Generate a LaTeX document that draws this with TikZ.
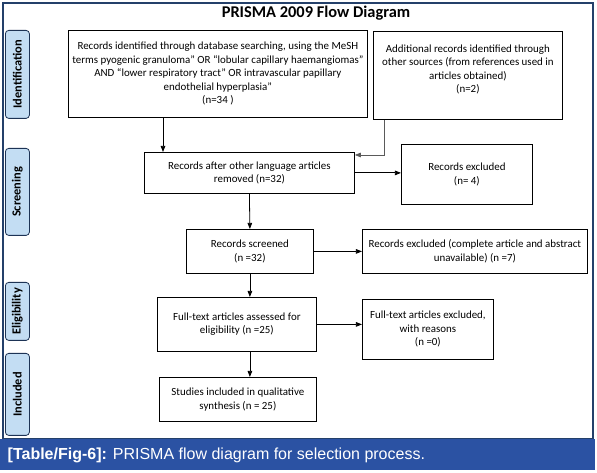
\documentclass[tikz,border=0pt]{standalone}
\usepackage{fontspec}
\setmainfont{Carlito}
\newfontfamily\capfont{Liberation Sans}
\usetikzlibrary{positioning, arrows.meta, calc}
\definecolor{frame}{HTML}{24406A}
\definecolor{phase}{HTML}{C3DDF3}
\definecolor{band}{HTML}{2B52A3}
\definecolor{link}{HTML}{5A5A5A}

\begin{document}
\begin{tikzpicture}[
  x=0.75pt, y=-0.75pt,
  font=\fontsize{8.2pt}{10.1pt}\selectfont,
  every node/.style={align=center},
  box/.style={rectangle, draw=black, line width=0.6pt, fill=white,
              inner sep=0pt, anchor=north west},
  phasebox/.style={rectangle, rounded corners=2.5pt, draw=frame!80!black,
              line width=0.6pt, fill=phase, inner sep=0pt, anchor=north west},
  phaselabel/.style={rotate=90, font=\fontsize{9.3pt}{11pt}\selectfont\bfseries},
  arr/.style={-{Triangle[length=1.6mm, width=1.2mm]}, line width=0.6pt, draw=black},
  arrg/.style={arr, draw=link}
]
  \useasboundingbox (0,0) rectangle (597,473);

  % frame, title and caption band
  \draw[frame, line width=1pt] (3,3) rectangle (593,439);
  \node[font=\fontsize{12.3pt}{14pt}\selectfont\bfseries] (title) at (316,13) {PRISMA 2009 Flow Diagram};
  \fill[band] (0,439) rectangle (595,470);
  \node[anchor=west, text=white, font=\capfont\fontsize{12pt}{14pt}\selectfont] (cap) at (3,455)
    {\textbf{[Table/Fig-6]:} PRISMA flow diagram for selection process.};

  % phase labels
  \node[phasebox, minimum width=24*0.75pt, minimum height=88*0.75pt] (pid) at (5,30) {};
  \node[phaselabel] at (pid.center) {Identification};
  \node[phasebox, minimum width=24*0.75pt, minimum height=87*0.75pt] (psc) at (5,148) {};
  \node[phaselabel] at (psc.center) {Screening};
  \node[phasebox, minimum width=24*0.75pt, minimum height=58*0.75pt] (pel) at (5,282) {};
  \node[phaselabel] at (pel.center) {Eligibility};
  \node[phasebox, minimum width=24*0.75pt, minimum height=82*0.75pt] (pin) at (5,353) {};
  \node[phaselabel] at (pin.center) {Included};

  % flow boxes
  \node[box, minimum width=299*0.75pt, minimum height=87*0.75pt] (ident) at (68,30)
    {Records identified through database searching, using the MeSH\\
     terms pyogenic granuloma” OR “lobular capillary haemangiomas”\\
     AND “lower respiratory tract” OR intravascular papillary\\
     endothelial hyperplasia”\\
     (n=34 )};
  \node[box, minimum width=189*0.75pt, minimum height=88*0.75pt] (other) at (373,31)
    {Additional records identified through\\
     other sources (from references used in\\
     articles obtained)\\
     (n=2)\\ \mbox{}};
  \node[box, minimum width=210*0.75pt, minimum height=41*0.75pt] (lang) at (144,152)
    {Records after other language articles\\
     removed (n=32)};
  \node[box, minimum width=131*0.75pt, minimum height=60*0.75pt] (excl4) at (401,144)
    {Records excluded\\
     (n= 4)};
  \node[box, minimum width=127*0.75pt, minimum height=44*0.75pt] (screen) at (186,229)
    {Records screened\\
     (n =32)};
  \node[box, minimum width=225*0.75pt, minimum height=44*0.75pt] (excl7) at (362,229)
    {Records excluded (complete article and abstract\\
     unavailable) (n =7)};
  \node[box, minimum width=159*0.75pt, minimum height=54*0.75pt] (full) at (157,297)
    {Full-text articles assessed for\\
     eligibility (n =25)};
  \node[box, minimum width=131*0.75pt, minimum height=60*0.75pt] (fexcl) at (362,299)
    {Full-text articles excluded,\\
     with reasons\\
     (n =0)};
  \node[box, minimum width=157*0.75pt, minimum height=44*0.75pt] (incl) at (159,377)
    {Studies included in qualitative\\
     synthesis (n = 25)};

  \coordinate (c1) at (163,0);
  \coordinate (c2) at (384,155);

  \draw[arr] (ident.south -| c1) -- (lang.north -| c1);
  \draw[arrg] (other.south -| c2) |- (lang.east |- c2);
  \draw[arr] (lang.east) -- (lang.east -| excl4.west);
  \draw[arr] (lang.south) -- (screen.north);
  \draw[arr] (screen.east) -- (screen.east -| excl7.west);
  \draw[arr] (screen.south) -- (screen.south |- full.north);
  \draw[arr] (full.east) -- (full.east -| fexcl.west);
  \draw[arr] (screen.south |- full.south) -- (screen.south |- incl.north);
\end{tikzpicture}
\end{document}
